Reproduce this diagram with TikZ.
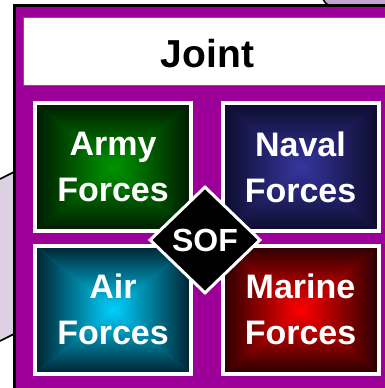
\documentclass[tikz,border=0pt]{standalone}
\usepackage{fontspec}
\setmainfont{Liberation Sans}
\usetikzlibrary{shapes.geometric}
\definecolor{lav}{RGB}{220,208,226}
\definecolor{lavdark}{RGB}{192,166,208}
\definecolor{frame}{RGB}{156,0,153}
\definecolor{armyEdge}{RGB}{0,26,0}
\definecolor{armyMid}{RGB}{0,150,0}
\definecolor{navyEdge}{RGB}{12,12,44}
\definecolor{navyMid}{RGB}{54,54,160}
\definecolor{airEdge}{RGB}{0,34,48}
\definecolor{airMid}{RGB}{0,210,255}
\definecolor{marEdge}{RGB}{40,0,0}
\definecolor{marMid}{RGB}{255,0,0}
\newcommand\bevelfill[2]{%
  \fill[#2!70!#1] (path picture bounding box.south west) rectangle (path picture bounding box.north east);
  \shade[top color=#1, bottom color=#2] (path picture bounding box.north west) -- (path picture bounding box.north east) -- (path picture bounding box.center) -- cycle;
  \shade[top color=#2, bottom color=#1] (path picture bounding box.south west) -- (path picture bounding box.south east) -- (path picture bounding box.center) -- cycle;
  \shade[left color=#1, right color=#2] (path picture bounding box.north west) -- (path picture bounding box.south west) -- (path picture bounding box.center) -- cycle;
  \shade[left color=#2, right color=#1] (path picture bounding box.north east) -- (path picture bounding box.south east) -- (path picture bounding box.center) -- cycle;
}
\tikzset{
  forcebox/.style 2 args={rectangle, minimum width=156pt, minimum height=128pt, inner sep=0pt,
    draw=white, line width=4pt, text=white, align=center,
    font=\bfseries\fontsize{34}{46}\selectfont,
    path picture={\bevelfill{#1}{#2}}},
  outline/.style={line width=1.6pt, black},
}
\begin{document}
\begin{tikzpicture}[x=1pt,y=-1pt]
\useasboundingbox (0,0) rectangle (385,388);
\fill[white] (0,0) rectangle (385,388);
% background shapes
\fill[lav] (0,179) -- (14,172) -- (14,334) -- (0,341) -- cycle;
\draw[outline] (0,179) -- (14,172);
\draw[outline] (0,341) -- (14,334);
\fill[lavdark] (323,-1) .. controls (325,3) and (327,5) .. (331,6) -- (386,6) -- (386,-1) -- cycle;
\draw[outline] (323,-1) .. controls (325,3) and (327,5) .. (331,6);
% outer frame
\draw[line width=2.5pt, fill=frame] (14.5,5.5) rectangle (400,400);
% Joint box
\node[draw=black!60, line width=1pt, fill=white, rectangle, minimum width=372pt, minimum height=68pt, anchor=north west] (jointbox) at (23,17) {};
\node[font=\bfseries\fontsize{39}{40}\selectfont, anchor=base] (joint) at (207.5,67) {Joint};
% force boxes
\node[forcebox={armyEdge}{armyMid}] (army) at (113,167) {Army\\Forces};
\node[forcebox={navyEdge}{navyMid}] (naval) at (300.5,167) {Naval\\Forces};
\node[forcebox={airEdge}{airMid}] (air) at (113,309.5) {Air\\Forces};
\node[forcebox={marEdge}{marMid}] (marine) at (300.5,309.5) {Marine\\Forces};
% SOF diamond
\node[diamond, draw=white, fill=black, line width=3pt, minimum width=111pt, minimum height=107pt, inner sep=0pt, text=white, font=\bfseries\fontsize{32}{34}\selectfont] (sof) at (205,240) {SOF};
\end{tikzpicture}
\end{document}
